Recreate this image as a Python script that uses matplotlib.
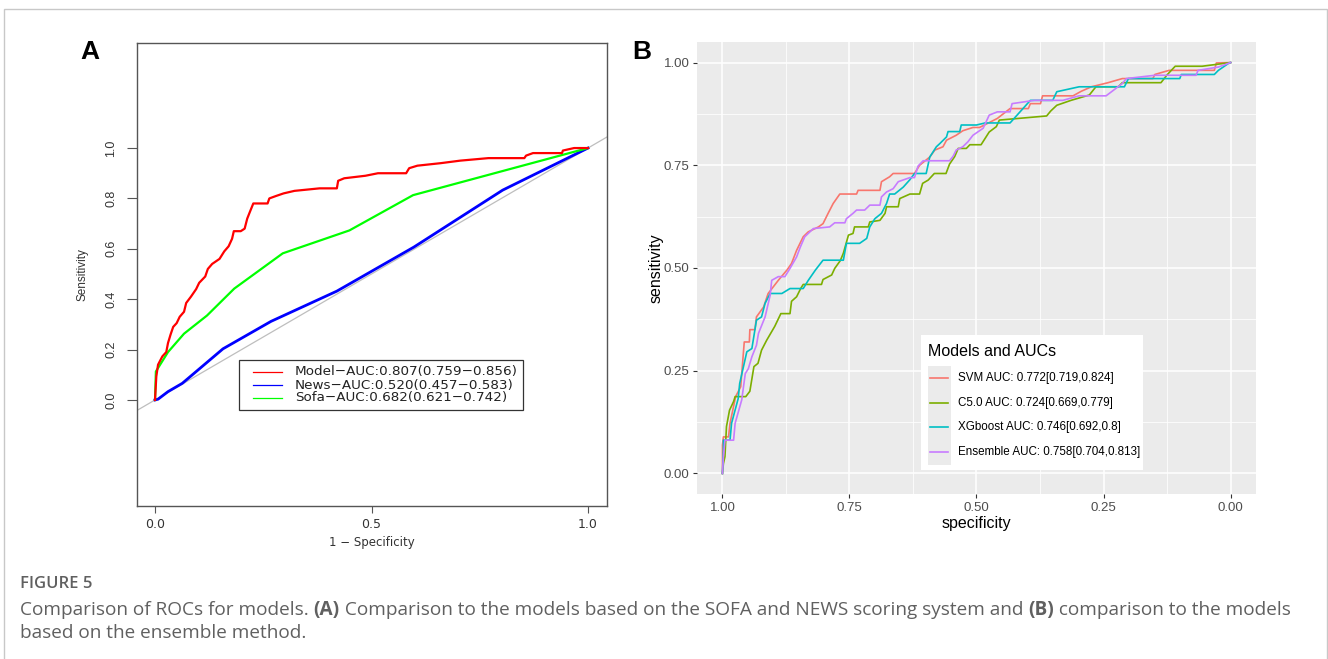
import matplotlib
matplotlib.use("Agg")
import matplotlib.pyplot as plt
import matplotlib.font_manager as fm
from matplotlib.lines import Line2D
from matplotlib.patches import Rectangle

W, H = 1328, 659

# ---------------- panel A : 1 - specificity / sensitivity ----------------
model_fpr = [0.000, 0.003, 0.007, 0.017, 0.026, 0.030, 0.036, 0.042, 0.050, 0.057,
             0.067, 0.072, 0.083, 0.095, 0.102, 0.116, 0.122, 0.132, 0.149, 0.160,
             0.170, 0.178, 0.182, 0.198, 0.207, 0.213, 0.219, 0.227, 0.260, 0.264,
             0.280, 0.297, 0.322, 0.380, 0.420, 0.423, 0.437, 0.486, 0.515, 0.580,
             0.587, 0.606, 0.660, 0.705, 0.770, 0.853, 0.857, 0.873, 0.940, 0.942,
             0.968, 1.000]
model_tpr = [0.000, 0.093, 0.140, 0.173, 0.190, 0.226, 0.260, 0.290, 0.305, 0.330,
             0.350, 0.385, 0.410, 0.440, 0.465, 0.490, 0.520, 0.540, 0.560, 0.590,
             0.610, 0.640, 0.670, 0.670, 0.680, 0.720, 0.746, 0.780, 0.780, 0.800,
             0.810, 0.820, 0.830, 0.840, 0.840, 0.870, 0.880, 0.890, 0.900, 0.900,
             0.920, 0.930, 0.940, 0.950, 0.960, 0.960, 0.970, 0.980, 0.980, 0.990,
             1.000, 1.000]
news_fpr = [0.000, 0.007, 0.030, 0.063, 0.157, 0.268, 0.420, 0.598, 0.803, 1.000]
news_tpr = [0.000, 0.003, 0.033, 0.066, 0.203, 0.312, 0.432, 0.607, 0.833, 1.000]
sofa_fpr = [0.000, 0.002, 0.030, 0.067, 0.120, 0.183, 0.295, 0.449, 0.596, 1.000]
sofa_tpr = [0.000, 0.113, 0.190, 0.263, 0.335, 0.442, 0.582, 0.673, 0.813, 1.000]

a_labels = ["Model\u2212AUC:0.807(0.759\u22120.856)",
            "News\u2212AUC:0.520(0.457\u22120.583)",
            "Sofa\u2212AUC:0.682(0.621\u22120.742)"]
a_colors = ["#FF0000", "#0000FF", "#00FF00"]
a_xticks = [0.0, 0.5, 1.0]
a_yticks = [0.0, 0.2, 0.4, 0.6, 0.8, 1.0]

# ---------------- panel B : specificity / sensitivity ----------------
svm_spec = [1.000, 1.000, 0.998, 0.988, 0.985, 0.974, 0.964, 0.957, 0.947, 0.946,
            0.936, 0.933, 0.919, 0.910, 0.900, 0.890, 0.873, 0.864, 0.854, 0.841,
            0.831, 0.811, 0.802, 0.792, 0.782, 0.769, 0.736, 0.733, 0.690, 0.687,
            0.671, 0.664, 0.622, 0.612, 0.592, 0.582, 0.566, 0.559, 0.540, 0.527,
            0.507, 0.494, 0.459, 0.434, 0.398, 0.394, 0.374, 0.370, 0.310, 0.294,
            0.274, 0.241, 0.213, 0.153, 0.149, 0.121, 0.032, 0.028, 0.000]
svm_sens = [0.000, 0.069, 0.089, 0.089, 0.122, 0.187, 0.211, 0.320, 0.320, 0.350,
            0.350, 0.381, 0.405, 0.438, 0.454, 0.470, 0.495, 0.511, 0.543, 0.576,
            0.588, 0.600, 0.608, 0.633, 0.657, 0.680, 0.680, 0.689, 0.689, 0.710,
            0.722, 0.730, 0.730, 0.750, 0.770, 0.787, 0.795, 0.811, 0.823, 0.834,
            0.842, 0.842, 0.864, 0.888, 0.888, 0.900, 0.900, 0.919, 0.919, 0.930,
            0.941, 0.951, 0.961, 0.961, 0.971, 0.981, 0.981, 0.999, 1.000]
c50_spec = [1.000, 0.998, 0.995, 0.992, 0.986, 0.978, 0.975, 0.954, 0.946, 0.938,
            0.930, 0.923, 0.913, 0.905, 0.897, 0.885, 0.867, 0.864, 0.854, 0.846,
            0.841, 0.805, 0.802, 0.785, 0.779, 0.768, 0.762, 0.752, 0.743, 0.740,
            0.713, 0.710, 0.690, 0.680, 0.677, 0.654, 0.651, 0.631, 0.612, 0.606,
            0.595, 0.583, 0.560, 0.553, 0.543, 0.536, 0.520, 0.513, 0.491, 0.475,
            0.461, 0.455, 0.362, 0.354, 0.342, 0.314, 0.278, 0.265, 0.221, 0.213,
            0.137, 0.125, 0.109, 0.056, 0.000]
c50_sens = [0.000, 0.024, 0.041, 0.114, 0.154, 0.175, 0.187, 0.187, 0.200, 0.260,
            0.268, 0.300, 0.324, 0.341, 0.358, 0.389, 0.389, 0.419, 0.430, 0.450,
            0.460, 0.460, 0.472, 0.483, 0.499, 0.518, 0.536, 0.580, 0.584, 0.600,
            0.600, 0.612, 0.616, 0.633, 0.649, 0.649, 0.669, 0.680, 0.680, 0.706,
            0.714, 0.730, 0.730, 0.753, 0.771, 0.791, 0.791, 0.800, 0.800, 0.831,
            0.844, 0.860, 0.870, 0.882, 0.896, 0.908, 0.921, 0.941, 0.941, 0.951,
            0.951, 0.970, 0.991, 0.991, 1.000]
xgb_spec = [1.000, 0.998, 0.998, 0.985, 0.982, 0.969, 0.966, 0.952, 0.942, 0.933,
            0.923, 0.916, 0.906, 0.883, 0.867, 0.841, 0.831, 0.817, 0.802, 0.762,
            0.756, 0.730, 0.716, 0.710, 0.700, 0.687, 0.677, 0.671, 0.661, 0.644,
            0.631, 0.622, 0.599, 0.592, 0.579, 0.572, 0.559, 0.556, 0.533, 0.530,
            0.500, 0.483, 0.434, 0.426, 0.394, 0.350, 0.342, 0.298, 0.209, 0.201,
            0.100, 0.097, 0.032, 0.024, 0.004, 0.000]
xgb_sens = [0.000, 0.057, 0.081, 0.081, 0.122, 0.182, 0.219, 0.296, 0.304, 0.373,
            0.381, 0.414, 0.438, 0.438, 0.450, 0.450, 0.470, 0.495, 0.519, 0.519,
            0.560, 0.560, 0.572, 0.600, 0.620, 0.633, 0.657, 0.680, 0.680, 0.697,
            0.715, 0.730, 0.730, 0.770, 0.795, 0.803, 0.819, 0.832, 0.832, 0.848,
            0.848, 0.853, 0.853, 0.864, 0.908, 0.908, 0.929, 0.941, 0.941, 0.961,
            0.961, 0.971, 0.971, 0.981, 0.998, 1.000]
ens_spec = [1.000, 0.998, 0.995, 0.978, 0.975, 0.962, 0.955, 0.949, 0.942, 0.933,
            0.929, 0.916, 0.906, 0.903, 0.890, 0.877, 0.867, 0.854, 0.847, 0.838,
            0.821, 0.789, 0.779, 0.759, 0.756, 0.743, 0.736, 0.720, 0.710, 0.690,
            0.687, 0.677, 0.664, 0.654, 0.631, 0.622, 0.615, 0.605, 0.553, 0.546,
            0.540, 0.527, 0.517, 0.507, 0.487, 0.475, 0.459, 0.434, 0.430, 0.386,
            0.330, 0.298, 0.245, 0.213, 0.205, 0.149, 0.068, 0.064, 0.024, 0.000]
ens_sens = [0.000, 0.041, 0.081, 0.081, 0.122, 0.179, 0.243, 0.255, 0.284, 0.312,
            0.341, 0.381, 0.434, 0.470, 0.479, 0.479, 0.499, 0.527, 0.550, 0.576,
            0.596, 0.600, 0.610, 0.610, 0.620, 0.633, 0.641, 0.641, 0.653, 0.653,
            0.673, 0.685, 0.693, 0.710, 0.720, 0.720, 0.748, 0.761, 0.761, 0.772,
            0.787, 0.795, 0.807, 0.823, 0.840, 0.872, 0.880, 0.880, 0.900, 0.908,
            0.908, 0.919, 0.919, 0.949, 0.961, 0.969, 0.969, 0.981, 0.989, 1.000]

b_labels = ["SVM AUC: 0.772[0.719,0.824]",
            "C5.0 AUC: 0.724[0.669,0.779]",
            "XGboost AUC: 0.746[0.692,0.8]",
            "Ensemble AUC: 0.758[0.704,0.813]"]
b_colors = ["#F8766D", "#7CAE00", "#00BFC4", "#C77CFF"]
b_ticks = [0.0, 0.25, 0.5, 0.75, 1.0]
b_ticklabels = ["0.00", "0.25", "0.50", "0.75", "1.00"]

caption_title = "FIGURE 5"
caption_line1 = [("Comparison of ROCs for models. ", "normal"), ("(A)", "bold"),
                 (" Comparison to the models based on the SOFA and NEWS scoring system and ", "normal"),
                 ("(B)", "bold"), (" comparison to the models", "normal")]
caption_line2 = "based on the ensemble method."

# ---------------- fonts ----------------
names = {f.name for f in fm.fontManager.ttflist}
NARROW = "Liberation Sans Narrow" if "Liberation Sans Narrow" in names else "Liberation Sans"
ARIAL = "Liberation Sans"
CAPF = "Open Sans" if "Open Sans" in names else "DejaVu Sans"


def fx(px):
    return px / W


def fy(py):
    return 1 - py / H


fig = plt.figure(figsize=(W / 100, H / 100), dpi=100)
fig.patch.set_facecolor("white")

# outer frame
fig.patches.append(Rectangle((fx(4), -0.1), fx(1326.5) - fx(4), fy(9) + 0.1,
                             transform=fig.transFigure, fill=False,
                             edgecolor="#c8c8c8", linewidth=1.0))

# ================= panel A =================
axA = fig.add_axes([fx(137), fy(506), fx(607) - fx(137), fy(43) - fy(506)])
axA.set_xlim(-0.0416, 1.0439)
axA.set_ylim(-0.421, 1.417)
axA.plot([-0.1, 1.2], [-0.1, 1.2], color="#BEBEBE", linewidth=0.9, zorder=1)
axA.plot(news_fpr, news_tpr, color=a_colors[1], linewidth=2.0, zorder=2)
axA.plot(sofa_fpr, sofa_tpr, color=a_colors[2], linewidth=1.6, zorder=3)
axA.plot(model_fpr, model_tpr, color=a_colors[0], linewidth=1.6, zorder=4)

for s in axA.spines.values():
    s.set_color("#555555")
    s.set_linewidth(1.0)
axA.set_xticks(a_xticks)
axA.set_xticklabels(["0.0", "0.5", "1.0"], fontsize=9, family="DejaVu Sans", color="#333333")
axA.set_yticks(a_yticks)
axA.set_yticklabels(["0.0", "0.2", "0.4", "0.6", "0.8", "1.0"], fontsize=9,
                    family=NARROW, rotation=90, va="center", color="#333333")
axA.tick_params(axis="x", length=5, width=0.8, color="#555555", pad=4)
axA.tick_params(axis="y", length=7, width=0.8, color="#555555", pad=7)
axA.set_xlabel("1 \u2212 Specificity", fontsize=8.5, family="DejaVu Sans", color="#333333", labelpad=3)
axA.set_ylabel("Sensitivity", fontsize=8.5, family=NARROW, color="#333333", labelpad=12)

# legend of panel A
fig.patches.append(Rectangle((fx(239), fy(410)), fx(523) - fx(239), fy(360) - fy(410),
                             transform=fig.transFigure, facecolor="white",
                             edgecolor="#333333", linewidth=0.9, zorder=5))
for i, (lab, col) in enumerate(zip(a_labels, a_colors)):
    yy = 372 + i * 13
    fig.lines.append(Line2D([fx(253), fx(282)], [fy(yy), fy(yy)], color=col,
                            linewidth=0.9, transform=fig.transFigure, zorder=6))
    fig.text(fx(295), fy(yy), lab, fontsize=9.7, family="DejaVu Sans",
             color="#222222", va="center", ha="left", zorder=6)

fig.text(fx(90), fy(52), "A", fontsize=19, fontweight="bold", family=ARIAL,
         ha="center", va="center")

# ================= panel B =================
axB = fig.add_axes([fx(697), fy(494), fx(1256) - fx(697), fy(42) - fy(494)])
axB.set_facecolor("#EBEBEB")
axB.set_xlim(1.05, -0.05)
axB.set_ylim(-0.05, 1.05)
axB.set_xticks(b_ticks)
axB.set_xticklabels(b_ticklabels, fontsize=9.5, family=NARROW, color="#4D4D4D")
axB.set_yticks(b_ticks)
axB.set_yticklabels(b_ticklabels, fontsize=9.5, family=NARROW, color="#4D4D4D")
axB.set_xticks([0.125, 0.375, 0.625, 0.875], minor=True)
axB.set_yticks([0.125, 0.375, 0.625, 0.875], minor=True)
axB.grid(which="major", color="white", linewidth=1.1)
axB.grid(which="minor", color="white", linewidth=0.55)
axB.set_axisbelow(True)
for s in axB.spines.values():
    s.set_visible(False)
axB.tick_params(which="major", length=3, width=0.8, color="#333333", pad=2.5)
axB.tick_params(which="minor", length=0)

axB.plot(svm_spec, svm_sens, color=b_colors[0], linewidth=1.2)
axB.plot(c50_spec, c50_sens, color=b_colors[1], linewidth=1.2)
axB.plot(xgb_spec, xgb_sens, color=b_colors[2], linewidth=1.2)
axB.plot(ens_spec, ens_sens, color=b_colors[3], linewidth=1.2)

axB.set_xlabel("specificity", fontsize=11.5, family=NARROW, color="black", labelpad=2)
axB.set_ylabel("sensitivity", fontsize=11.5, family=NARROW, color="black", labelpad=0)

# legend of panel B (ggplot style)
fig.patches.append(Rectangle((fx(921), fy(470)), fx(1143) - fx(921), fy(335) - fy(470),
                             transform=fig.transFigure, facecolor="white",
                             edgecolor="none", zorder=5))
fig.patches.append(Rectangle((fx(928), fy(465)), fx(951) - fx(928), fy(366) - fy(465),
                             transform=fig.transFigure, facecolor="#EBEBEB",
                             edgecolor="none", zorder=6))
fig.text(fx(928), fy(351), "Models and AUCs", fontsize=11.5, family=NARROW,
         color="black", va="center", ha="left", zorder=7)
for i, (lab, col) in enumerate(zip(b_labels, b_colors)):
    yy = 378 + i * 24.6
    fig.lines.append(Line2D([fx(930), fx(948)], [fy(yy), fy(yy)], color=col,
                            linewidth=1.2, transform=fig.transFigure, zorder=7))
    fig.text(fx(958), fy(yy), lab, fontsize=8.4, family=NARROW,
             color="black", va="center", ha="left", zorder=7)

fig.text(fx(642), fy(52), "B", fontsize=19, fontweight="bold", family=ARIAL,
         ha="center", va="center")

# ================= caption =================
fig.canvas.draw()
renderer = fig.canvas.get_renderer()


def text_width(s, **kw):
    t = fig.text(0, 0, s + "|", **kw)
    w1 = t.get_window_extent(renderer).width
    t.set_text("|")
    w2 = t.get_window_extent(renderer).width
    t.remove()
    return w1 - w2


cap_kw = dict(fontsize=13.7, family=CAPF, color="#606060")
fig.text(fx(20), fy(584), caption_title, fontsize=12, family=CAPF, color="#606060",
         va="center", ha="left", fontweight="semibold")
x = 20
for s, wt in caption_line1:
    fig.text(fx(x), fy(610), s, va="center", ha="left", fontweight=wt, **cap_kw)
    x += text_width(s, fontweight=wt, **cap_kw)
fig.text(fx(20), fy(633), caption_line2, va="center", ha="left", **cap_kw)

fig.savefig("out.png", dpi=100, facecolor="white")
